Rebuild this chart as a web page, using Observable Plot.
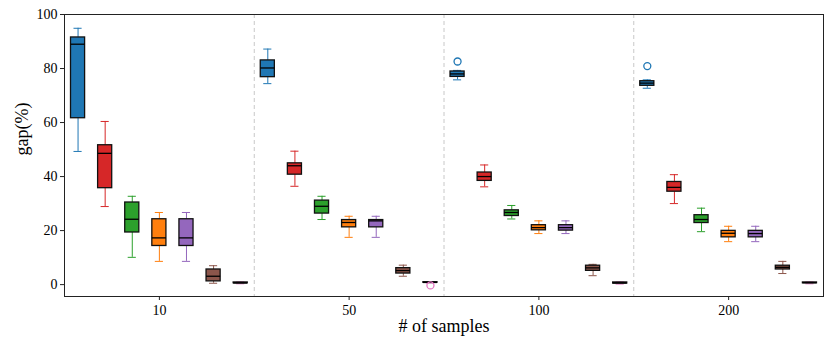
<!DOCTYPE html>
<html>
<head>
<meta charset="utf-8">
<script src="https://cdn.jsdelivr.net/npm/d3@7"></script>
<script src="https://cdn.jsdelivr.net/npm/@observablehq/plot@0.6"></script>
<style>
  body { margin: 0; background: #fff; }
  svg { display: block; }
</style>
</head>
<body>
<div id="chart"></div>
<script>
// x-axis categories
const samples = ["10", "50", "100", "200"];
// methods (one box per method within each group), tab10 colours
const methods = ["m1", "m2", "m3", "m4", "m5", "m6", "m7"];
const colors = ["#1f77b4", "#d62728", "#2ca02c", "#ff7f0e", "#9467bd", "#8c564b", "#e377c2"];

// per method, per sample: [whisker low, q1, median, q3, whisker high]
const m1 = [[49.3, 61.6, 89.0, 91.5, 94.9], [74.4, 76.8, 80.2, 83.0, 87.2], [75.8, 76.9, 78.0, 78.9, 79.3], [72.7, 73.6, 74.6, 75.3, 75.8]];
const m2 = [[28.9, 35.7, 48.6, 51.6, 60.4], [36.4, 40.7, 44.0, 44.9, 49.4], [36.2, 38.4, 40.0, 41.5, 44.3], [30.0, 34.4, 36.0, 38.0, 40.7]];
const m3 = [[10.1, 19.3, 24.2, 30.4, 32.7], [24.1, 26.3, 29.0, 31.1, 32.7], [24.3, 25.4, 26.7, 27.5, 29.3], [19.6, 22.8, 24.1, 25.7, 28.3]];
const m4 = [[8.6, 14.3, 17.3, 24.2, 26.7], [17.5, 21.2, 23.0, 23.9, 25.3], [18.9, 20.1, 21.1, 22.0, 23.6], [15.9, 17.5, 19.0, 19.9, 21.6]];
const m5 = [[8.6, 14.3, 17.3, 24.2, 26.7], [17.5, 21.2, 23.6, 23.9, 25.3], [18.9, 20.0, 21.1, 22.0, 23.6], [15.9, 17.5, 18.9, 19.9, 21.6]];
const m6 = [[0.5, 1.2, 3.1, 5.6, 7.0], [3.1, 4.1, 5.2, 6.1, 7.2], [3.3, 5.1, 6.2, 7.0, 7.5], [4.1, 5.6, 6.4, 7.0, 8.6]];
const m7 = [[0.3, 0.5, 0.6, 0.8, 1.0], [0.6, 0.7, 0.8, 0.9, 1.0], [0.2, 0.4, 0.6, 0.8, 1.0], [0.3, 0.5, 0.7, 0.8, 1.0]];

// outliers
const outlierMethod = [0, 0, 6];
const outlierSample = [2, 3, 1];
const outlierValue = [82.6, 80.9, -0.3];

const yTicks = [0, 20, 40, 60, 80, 100];

// ---- build table ----
const stats = [m1, m2, m3, m4, m5, m6, m7];
const nM = methods.length;
const rows = [];
samples.forEach((s, g) => {
  methods.forEach((m, i) => {
    const [lo, q1, med, q3, hi] = stats[i][g];
    rows.push({sample: s, method: m, color: colors[i], pos: g * nM + i, lo, q1, med, q3, hi});
  });
});
const outliers = outlierValue.map((v, k) => ({
  pos: outlierSample[k] * nM + outlierMethod[k],
  value: v,
  color: colors[outlierMethod[k]]
}));
const groupCenters = samples.map((s, g) => g * nM + (nM - 1) / 2);
const separators = samples.slice(1).map((s, g) => (g + 1) * nM - 0.5);

const boxHalf = 0.26, capHalf = 0.15;

const chart = Plot.plot({
  width: 831,
  height: 349,
  marginLeft: 64,
  marginRight: 8,
  marginTop: 14,
  marginBottom: 53,
  style: {fontFamily: "'Liberation Serif', 'DejaVu Serif', serif", fontSize: "14px", color: "#000", background: "#fff"},
  x: {type: "linear", domain: [-0.5, samples.length * nM - 0.5]},
  y: {domain: [-4.4, 100]},
  marks: [
    Plot.ruleX(separators, {x: d => d, stroke: "#c8c8c8", strokeDasharray: "4,3", strokeWidth: 1}),
    // whiskers
    Plot.ruleX(rows, {x: "pos", y1: "lo", y2: "q1", stroke: "color", strokeWidth: 1}),
    Plot.ruleX(rows, {x: "pos", y1: "q3", y2: "hi", stroke: "color", strokeWidth: 1}),
    // caps
    Plot.ruleY(rows, {y: "lo", x1: d => d.pos - capHalf, x2: d => d.pos + capHalf, stroke: "color", strokeWidth: 1}),
    Plot.ruleY(rows, {y: "hi", x1: d => d.pos - capHalf, x2: d => d.pos + capHalf, stroke: "color", strokeWidth: 1}),
    // boxes
    Plot.rect(rows, {x1: d => d.pos - boxHalf, x2: d => d.pos + boxHalf, y1: "q1", y2: "q3", fill: "color", stroke: "#111", strokeWidth: 1.3}),
    // medians
    Plot.ruleY(rows, {y: "med", x1: d => d.pos - boxHalf, x2: d => d.pos + boxHalf, stroke: "#000", strokeWidth: 1.3}),
    // outliers
    Plot.dot(outliers, {x: "pos", y: "value", stroke: "color", fill: "none", r: 3.5, strokeWidth: 1.3}),
    Plot.frame({stroke: "#222", strokeWidth: 1}),
    Plot.axisY({ticks: yTicks, tickSize: 4, tickPadding: 3, label: null, stroke: "#222"}),
    Plot.axisX({ticks: groupCenters, tickFormat: (d) => samples[Math.round((d - (nM - 1) / 2) / nM)], tickSize: 4, tickPadding: 5, label: null, stroke: "#222"}),
    Plot.text(["gap(%)"], {frameAnchor: "left", dx: -42, rotate: -90, fontSize: 18, text: d => d}),
    Plot.text(["# of samples"], {frameAnchor: "bottom", dy: 35, fontSize: 18, text: d => d})
  ]
});
document.getElementById("chart").append(chart);
</script>
</body>
</html>
